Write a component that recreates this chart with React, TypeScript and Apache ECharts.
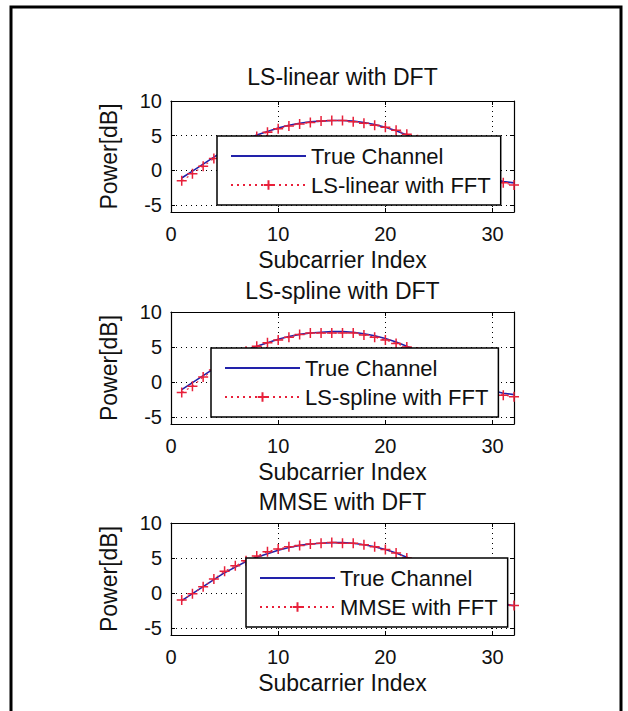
import React, { useEffect, useRef } from 'react';
import * as echarts from 'echarts';

// ---- data ----
const subcarriers = [1, 2, 3, 4, 5, 6, 7, 8, 9, 10, 11, 12, 13, 14, 15, 16, 17, 18, 19, 20, 21, 22, 23, 24, 25, 26, 27, 28, 29, 30, 31, 32];

const trueChannel = [-1.1, -0.1, 0.9, 1.9, 2.9, 3.7, 4.5, 5.1, 5.6, 6.1, 6.5, 6.8, 7.0, 7.1, 7.2, 7.2, 7.1, 6.9, 6.6, 6.2, 5.7, 5.1, 4.4, 3.6, 2.8, 1.9, 1.0, 0.2, -0.6, -1.2, -1.6, -1.8];

const lsLinearFFT = [-1.5, -0.5, 0.6, 1.7, 2.6, 3.5, 4.3, 4.9, 5.5, 6.0, 6.4, 6.7, 6.9, 7.1, 7.2, 7.2, 7.0, 6.8, 6.5, 6.2, 5.8, 5.2, 4.4, 3.6, 2.7, 1.9, 1.0, 0.1, -0.7, -1.3, -1.8, -2.1];

const lsSplineFFT = [-1.5, -0.6, 0.7, 1.7, 2.7, 3.6, 4.4, 5.1, 5.6, 6.0, 6.4, 6.8, 7.0, 7.0, 7.0, 7.0, 7.0, 6.7, 6.4, 6.0, 5.5, 5.0, 4.3, 3.5, 2.6, 1.8, 0.9, 0.0, -0.8, -1.4, -1.9, -2.1];

const mmseFFT = [-1.0, -0.1, 0.9, 2.0, 3.1, 3.9, 4.6, 5.3, 5.9, 6.3, 6.6, 6.8, 7.0, 7.1, 7.2, 7.1, 7.1, 6.9, 6.6, 6.2, 5.7, 5.0, 4.3, 3.5, 2.7, 1.9, 1.0, 0.2, -0.6, -1.2, -1.6, -1.8];

const panelTitles = ['LS-linear with DFT', 'LS-spline with DFT', 'MMSE with DFT'];
const estimateNames = ['LS-linear with FFT', 'LS-spline with FFT', 'MMSE with FFT'];
const estimates = [lsLinearFFT, lsSplineFFT, mmseFFT];
const trueName = 'True Channel';
const xAxisName = 'Subcarrier Index';
const yAxisName = 'Power[dB]';
const xMin = 0;
const xMax = 32;
const xInterval = 10;
const yMin = -6;
const yMax = 10;

// ---- layout ----
const FONT = '"Liberation Sans", Arial, Helvetica, sans-serif';
const gridTops = [101, 312, 523];
const gridHeights = [111, 112, 112];
const titleTops = [65, 279, 490];
const gridLeft = 171;
const gridWidth = 343;
const legendPos = [
  { left: 217, top: 136 },
  { left: 211, top: 348 },
  { left: 246, top: 558 },
];
const BLUE = '#2222aa';
const RED = '#e8203a';
const PLUS = 'path://M5,0L5,10M0,5L10,5';

export default function App() {
  const ref = useRef<HTMLDivElement>(null);

  useEffect(() => {
    if (!ref.current) return;
    const chart = echarts.init(ref.current, null, { renderer: 'svg' });

    const grids: any[] = [];
    const xAxes: any[] = [];
    const yAxes: any[] = [];
    const series: any[] = [];
    const titles: any[] = [];
    const legends: any[] = [];

    const tickStyle = { show: true, inside: true, length: 4, lineStyle: { color: '#000', width: 1 } };
    const lineStyle = { show: true, onZero: false, lineStyle: { color: '#000', width: 1.2 } };
    const gridLine = { show: true, lineStyle: { color: '#000', width: 1, type: [1, 4] } };

    for (let p = 0; p < 3; p++) {
      grids.push({ left: gridLeft, top: gridTops[p], width: gridWidth, height: gridHeights[p], containLabel: false });
      // bottom x
      xAxes.push({
        type: 'value', gridIndex: p, position: 'bottom', min: xMin, max: xMax, interval: xInterval,
        axisLine: lineStyle, axisTick: tickStyle, splitLine: gridLine,
        axisLabel: { show: true, margin: 12, fontSize: 20, color: '#111', fontFamily: FONT, showMaxLabel: false },
        name: xAxisName, nameLocation: 'middle', nameGap: 36,
        nameTextStyle: { fontSize: 23, color: '#111', fontFamily: FONT },
      });
      // top x (box + ticks)
      xAxes.push({
        type: 'value', gridIndex: p, position: 'top', min: xMin, max: xMax, interval: xInterval,
        axisLine: lineStyle, axisTick: tickStyle, splitLine: { show: false }, axisLabel: { show: false },
      });
      // left y
      yAxes.push({
        type: 'value', gridIndex: p, position: 'left', min: yMin, max: yMax, splitNumber: 3,
        axisLine: lineStyle, axisTick: tickStyle, splitLine: gridLine,
        axisLabel: { show: true, margin: 9, fontSize: 20, color: '#111', fontFamily: FONT, showMinLabel: false, showMaxLabel: true },
        name: yAxisName, nameLocation: 'middle', nameGap: 51,
        nameTextStyle: { fontSize: 23, color: '#111', fontFamily: FONT },
      });
      // right y
      yAxes.push({
        type: 'value', gridIndex: p, position: 'right', min: yMin, max: yMax, splitNumber: 3,
        axisLine: lineStyle, axisTick: tickStyle, splitLine: { show: false }, axisLabel: { show: false },
      });

      series.push({
        name: trueName, type: 'line', xAxisIndex: p * 2, yAxisIndex: p * 2,
        data: subcarriers.map((x, i) => [x, trueChannel[i]]),
        symbol: 'circle', symbolSize: 0, showSymbol: false,
        lineStyle: { color: BLUE, width: 1.6 },
        itemStyle: { color: 'transparent', borderWidth: 0 },
        emphasis: { disabled: true },
        z: 2,
      });
      series.push({
        name: estimateNames[p], type: 'line', xAxisIndex: p * 2, yAxisIndex: p * 2,
        data: subcarriers.map((x, i) => [x, estimates[p][i]]),
        symbol: PLUS, symbolSize: 10, showSymbol: true,
        lineStyle: { color: RED, width: 1.1, type: [2, 4] },
        itemStyle: { color: RED, borderColor: RED, borderWidth: 1.5 },
        emphasis: { disabled: true },
        z: 3,
      });

      titles.push({
        text: panelTitles[p], left: gridLeft + gridWidth / 2, top: titleTops[p], textAlign: 'center', padding: 0,
        textStyle: { fontSize: 23, fontWeight: 'normal', color: '#111', fontFamily: FONT },
      });

      legends.push({
        data: [trueName, estimateNames[p]], orient: 'vertical', left: legendPos[p].left, top: legendPos[p].top,
        padding: [9, 10, 9, 13], itemGap: 7, itemWidth: 75, itemHeight: 12, selectedMode: false,
        backgroundColor: '#fff', borderColor: '#000', borderWidth: 1.5, z: 10,
        textStyle: { fontSize: 22, lineHeight: 22, color: '#111', fontFamily: FONT },
      });
    }

    chart.setOption({
      animation: false,
      backgroundColor: '#fff',
      title: titles,
      legend: legends,
      grid: grids,
      xAxis: xAxes,
      yAxis: yAxes,
      series,
      graphic: [
        {
          type: 'polyline', silent: true, z: 100,
          shape: { points: [[11, 720], [11, 7], [621, 7], [621, 720]] },
          style: { stroke: '#000', lineWidth: 3, fill: 'none' },
        },
      ],
    });

    return () => chart.dispose();
  }, []);

  return <div ref={ref} style={{ position: 'absolute', left: 0, top: 0, width: 628, height: 711 }} />;
}
